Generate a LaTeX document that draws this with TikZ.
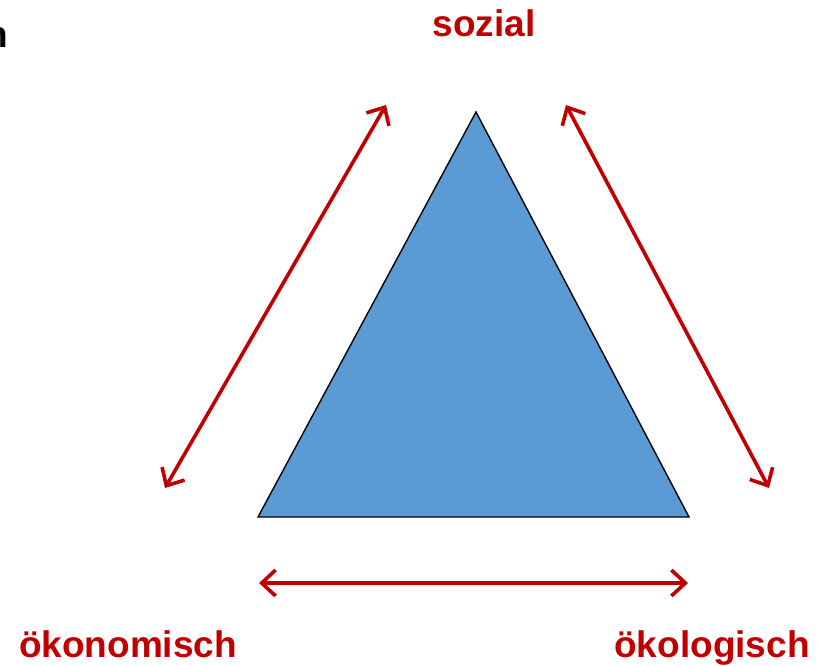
\documentclass[tikz,border=0pt]{standalone}
\usepackage{fontspec}
\setmainfont{Liberation Sans}
\usetikzlibrary{arrows.meta}
\definecolor{tri}{HTML}{5B9BD5}
\definecolor{dred}{HTML}{C00000}
\begin{document}
\begin{tikzpicture}[x=1pt,y=-1pt,
  lbl/.style={font=\fontsize{37}{44}\selectfont\bfseries, text=dred, inner sep=0pt},
  rel/.style={draw=dred, line width=3.6pt, {Straight Barb[length=14pt,width=26pt,line width=3.6pt]}-{Straight Barb[length=14pt,width=26pt,line width=3.6pt]}}]
\useasboundingbox (0,0) rectangle (825,666);
\begin{scope}
\clip (0,0) rectangle (825,666);
\node[font=\fontsize{37}{44}\selectfont\bfseries, anchor=base east, inner sep=0pt] (cut) at (8,48) {n};
\end{scope}
\coordinate (A) at (476,112);
\coordinate (B) at (258,517);
\coordinate (C) at (689,517);
\filldraw[fill=tri, draw=black, line width=1.4pt] (A) -- (B) -- (C) -- cycle;
\node[lbl, anchor=base] (soz) at (484,37) {sozial};
\node[lbl, anchor=base] (oko) at (128,657) {ökonomisch};
\node[lbl, anchor=base] (okl) at (712,657) {ökologisch};
\coordinate (l1) at (165,488); \coordinate (l2) at (386,105);
\coordinate (r1) at (566,105); \coordinate (r2) at (769,488);
\coordinate (b1) at (259,583); \coordinate (b2) at (688,583);
\draw[rel] (l1) -- (l2);
\draw[rel] (r1) -- (r2);
\draw[rel] (b1) -- (b2);
\end{tikzpicture}
\end{document}
